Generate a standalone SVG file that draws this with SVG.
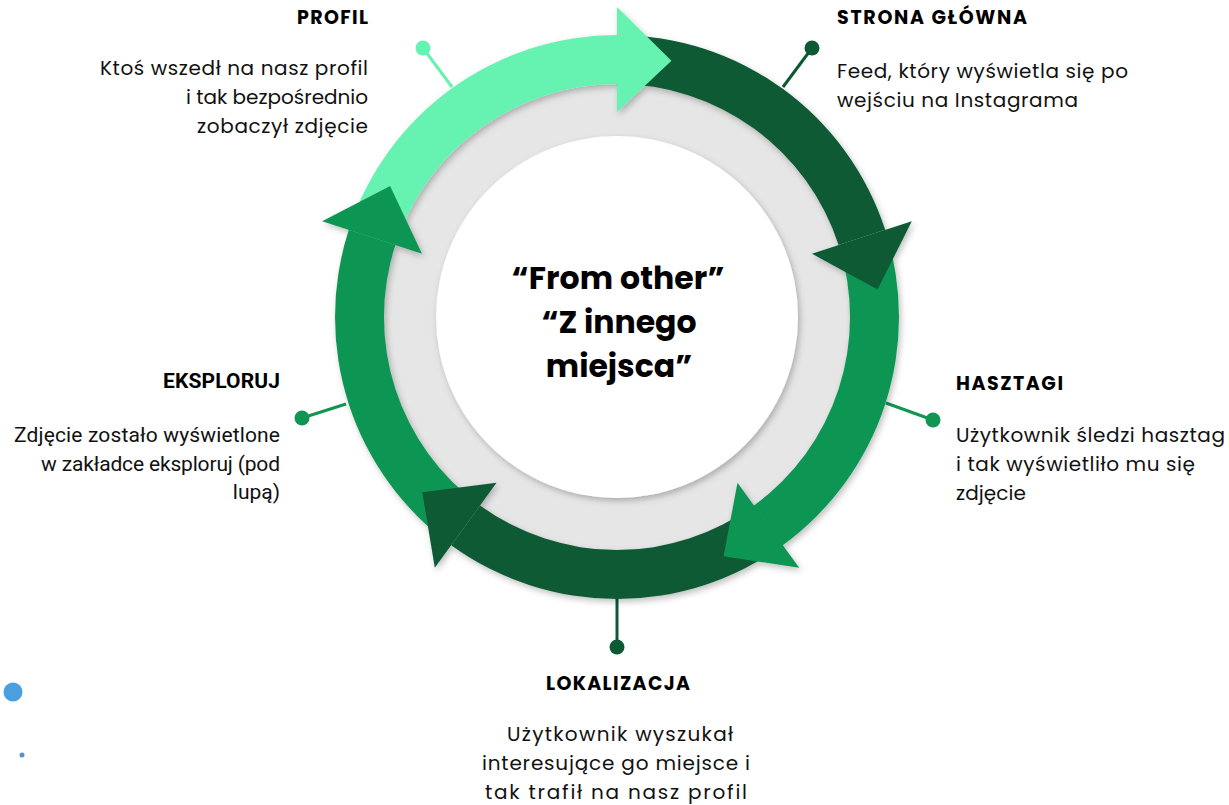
<svg xmlns="http://www.w3.org/2000/svg" width="1229" height="805" viewBox="0 0 1229 805">
<defs>
<style>
.t{font-family:"Poppins","Open Sans",sans-serif;font-weight:700;font-size:19px;fill:#000}
.d{font-family:"Poppins","Open Sans",sans-serif;font-weight:400;font-size:20px;fill:#111}
.rt{font-family:Roboto,"Liberation Sans",sans-serif;font-weight:700;font-size:21px;fill:#000}
.rd{font-family:Roboto,"Liberation Sans",sans-serif;font-weight:400;font-size:21px;fill:#111}
.c{font-family:"Poppins","Open Sans",sans-serif;font-weight:700;font-size:31.5px;fill:#000}
.light{fill:#66F2B0}
.dark{fill:#0B5A34}
.med{fill:#109652}
.ln{stroke-width:3;fill:none}
</style>
<filter id="sh" x="-20%" y="-20%" width="140%" height="140%">
<feDropShadow dx="2" dy="3" stdDeviation="3" flood-color="#000" flood-opacity="0.25"/>
</filter>
</defs>
<rect width="1229" height="805" fill="#fff"/>
<g id="disk">
<circle cx="617" cy="317" r="233" fill="#E6E6E6"/>
<circle cx="617" cy="317" r="181" fill="#fff" filter="url(#sh)"/>
</g>
<g id="connectors">
<line class="ln" x1="452" y1="87" x2="423" y2="48" stroke="#66F2B0"/>
<circle cx="423" cy="48" r="7.5" class="light"/>
<line class="ln" x1="783" y1="87" x2="812" y2="48" stroke="#0B5A34"/>
<circle cx="812" cy="48" r="7.5" class="dark"/>
<line class="ln" x1="886" y1="403" x2="933" y2="420" stroke="#109652"/>
<circle cx="933" cy="420" r="7.5" class="med"/>
<line class="ln" x1="617" y1="596" x2="617" y2="647" stroke="#0B5A34"/>
<circle cx="617" cy="647" r="7.5" class="dark"/>
<line class="ln" x1="346" y1="404" x2="302" y2="418" stroke="#109652"/>
<circle cx="302" cy="418" r="7.5" class="med"/>
</g>
<g id="ring" filter="url(#sh)">
<path class="light" d="M 348.80 229.86 A 282 282 0 0 1 617 35 L 617 84 A 233 233 0 0 0 395.40 245.00 Z"/>
<path class="dark" d="M 617 35 A 282 282 0 0 1 885.20 229.86 L 838.60 245.00 A 233 233 0 0 0 617 84 Z"/>
<path class="med" d="M 885.20 229.86 A 282 282 0 0 1 782.76 545.14 L 753.96 505.50 A 233 233 0 0 0 838.60 245.00 Z"/>
<path class="dark" d="M 782.76 545.14 A 282 282 0 0 1 451.24 545.14 L 480.04 505.50 A 233 233 0 0 0 753.96 505.50 Z"/>
<path class="med" d="M 451.24 545.14 A 282 282 0 0 1 348.80 229.86 L 395.40 245.00 A 233 233 0 0 0 480.04 505.50 Z"/>
<polygon class="light" points="617,112 617,7 671.47,60.72"/>
<polygon class="dark" points="811.97,253.65 911.83,221.20 877.56,289.61"/>
<polygon class="med" points="737.50,482.85 799.21,567.80 723.57,556.35"/>
<polygon class="dark" points="496.50,482.85 434.79,567.80 422.30,492.31"/>
<polygon class="med" points="422.03,253.65 322.17,221.20 390.10,186.00"/>
</g>
<g id="center" text-anchor="middle">
<text class="c" x="618" y="289" textLength="213" lengthAdjust="spacing">“From other”</text>
<text class="c" x="619" y="333">“Z innego</text>
<text class="c" x="619" y="377">miejsca”</text>
</g>
<g id="profil" text-anchor="end">
<text class="t" x="368" y="24" textLength="71" lengthAdjust="spacing">PROFIL</text>
<text class="d" x="368" y="75" textLength="268" lengthAdjust="spacing">Ktoś wszedł na nasz profil</text>
<text class="d" x="368" y="104" textLength="182" lengthAdjust="spacing">i tak bezpośrednio</text>
<text class="d" x="368" y="133" textLength="171" lengthAdjust="spacing">zobaczył zdjęcie</text>
</g>
<g id="strona-glowna">
<text class="t" x="837" y="24" textLength="190" lengthAdjust="spacing">STRONA GŁÓWNA</text>
<text class="d" x="837" y="78" textLength="291" lengthAdjust="spacing">Feed, który wyświetla się po</text>
<text class="d" x="837" y="107" textLength="241" lengthAdjust="spacing">wejściu na Instagrama</text>
</g>
<g id="hasztagi">
<text class="t" x="956" y="390" textLength="107" lengthAdjust="spacing">HASZTAGI</text>
<text class="d" x="956" y="442" textLength="269" lengthAdjust="spacing">Użytkownik śledzi hasztag</text>
<text class="d" x="956" y="471" textLength="239" lengthAdjust="spacing">i tak wyświetliło mu się</text>
<text class="d" x="956" y="500" textLength="70" lengthAdjust="spacing">zdjęcie</text>
</g>
<g id="lokalizacja" text-anchor="middle">
<text class="t" x="618" y="690" textLength="144" lengthAdjust="spacing">LOKALIZACJA</text>
<text class="d" x="620" y="741" textLength="226" lengthAdjust="spacing">Użytkownik wyszukał</text>
<text class="d" x="616" y="770" textLength="268" lengthAdjust="spacing">interesujące go miejsce i</text>
<text class="d" x="616" y="799" textLength="262" lengthAdjust="spacing">tak trafił na nasz profil</text>
</g>
<g id="eksploruj" text-anchor="end">
<text class="rt" x="280" y="388" textLength="117" lengthAdjust="spacing">EKSPLORUJ</text>
<text class="rd" x="280" y="442" textLength="266" lengthAdjust="spacing">Zdjęcie zostało wyświetlone</text>
<text class="rd" x="280" y="471" textLength="239" lengthAdjust="spacing">w zakładce eksploruj (pod</text>
<text class="rd" x="280" y="499">lupą)</text>
</g>
<g id="dots">
<circle cx="13" cy="692" r="9.5" fill="#4A9FE0"/>
<circle cx="22" cy="755" r="2.5" fill="#5A8FC8"/>
</g>
</svg>
